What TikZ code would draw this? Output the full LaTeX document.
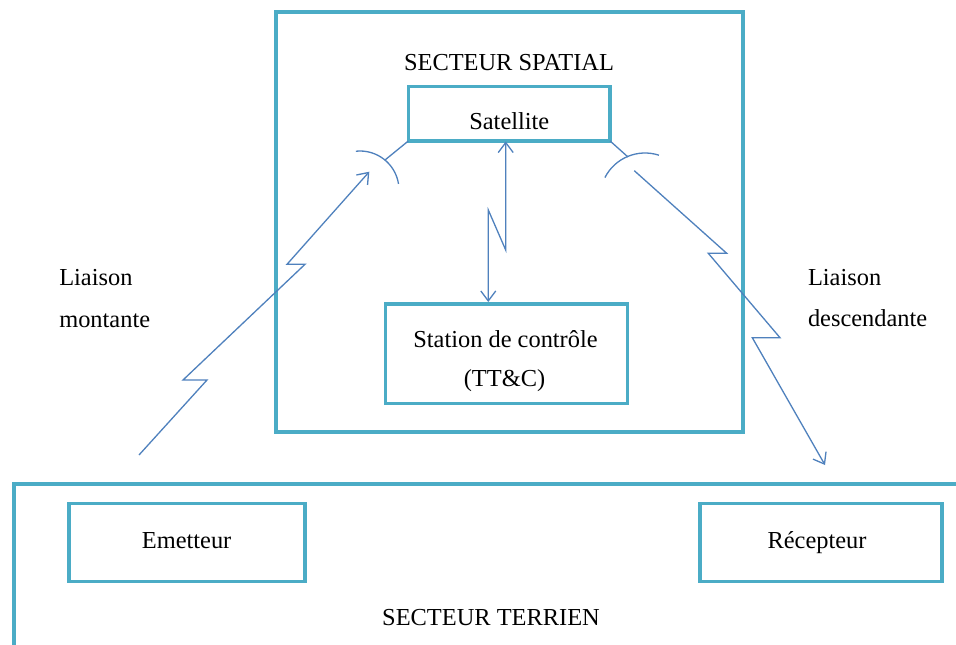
\documentclass[tikz,border=0pt]{standalone}
\usepackage{fontspec}
\setmainfont{Liberation Serif}
\usetikzlibrary{arrows.meta}
\definecolor{boxteal}{HTML}{4BACC6}
\definecolor{linkblue}{HTML}{4F81BD}

\begin{document}
\begin{tikzpicture}[x=1pt,y=-1pt,
  zone/.style={draw=boxteal, line width=4pt, rectangle, inner sep=0pt, outer sep=0pt},
  unit/.style={draw=boxteal, line width=3.5pt, rectangle, inner sep=0pt, outer sep=0pt},
  lbl/.style={inner sep=0pt, outer sep=0pt, anchor=base, font=\fontsize{24.4}{29}\selectfont},
  lblw/.style={lbl, anchor=base west},
  link/.style={draw=linkblue, line width=1.3pt, line join=miter},
  >={Straight Barb[length=10pt,width=15pt]}]

\useasboundingbox (0,0) rectangle (956,645);
\clip (0,0) rectangle (956,645);
\fill[white] (0,0) rectangle (956,645);

% space segment
\node[zone, minimum width=467.8pt, minimum height=419.5pt] (spatial) at (509.4,221.8) {};
\node[lbl] (spatialtxt) at (509,70.7) {SECTEUR SPATIAL};

\node[unit, minimum width=201.7pt, minimum height=54.3pt] (sat) at (509.2,113.8) {};
\node[lbl] (sattxt) at (509.3,129) {Satellite};

\node[unit, minimum width=241.6pt, minimum height=99.3pt] (station) at (506.5,353.7) {};
\node[lbl] (stationtxt) at (505.5,347.3) {Station de contrôle};
\node[lbl] (ttctxt) at (504.5,386.7) {(TT\&C)};

% ground segment (runs past the right and bottom edges)
\node[zone, anchor=north west, minimum width=1000pt, minimum height=300pt] (terrien) at (14,483.5) {};
\node[lbl] (terrientxt) at (491,625) {SECTEUR TERRIEN};

\node[unit, minimum width=236pt, minimum height=78.4pt] (emet) at (187,542.5) {};
\node[lbl] (emettxt) at (186.6,548.3) {Emetteur};

\node[unit, minimum width=242pt, minimum height=78.4pt] (recep) at (821,542.5) {};
\node[lbl] (receptxt) at (817,548.3) {Récepteur};

% link labels
\node[lblw] (upl1) at (59.3,285.7) {Liaison};
\node[lblw] (upl2) at (59.3,327.7) {montante};
\node[lblw] (dnl1) at (808,285.7) {Liaison};
\node[lblw] (dnl2) at (808,326.7) {descendante};

% satellite antennas
\coordinate (dishL) at (360,190);
\coordinate (dishR) at (645,198);
\draw[link] (dishL) ++(-96:39) arc[start angle=-96, end angle=-9, radius=39];
\draw[link] (dishR) ++(-153:45) arc[start angle=-153, end angle=-72, radius=45];
\coordinate (feedL) at (385,160);
\coordinate (feedR) at (628,157);
\draw[link] (sat.south west) -- (feedL);
\draw[link] (sat.south east) -- (feedR);

% uplink
\coordinate (upS) at (139,455);
\coordinate (upE) at (369.3,171.7);
\draw[link,->] (upS) -- (207,380) -- (183,380) -- (305,264.3) -- (287,264.3) -- (upE);

% downlink
\coordinate (dnS) at (634.3,170.7);
\coordinate (dnE) at (825,465);
\draw[link,->] (dnS) -- (726.7,253.3) -- (708.3,253.3) -- (780,337.7) -- (752.3,337.7) -- (dnE);

% TT&C link between satellite and control station
\coordinate (satA) at (505.7,141.5);
\coordinate (stA) at (488.3,302);
\draw[link,<->] (satA) -- (505.7,250) -- (488.3,210) -- (stA);
\end{tikzpicture}
\end{document}
